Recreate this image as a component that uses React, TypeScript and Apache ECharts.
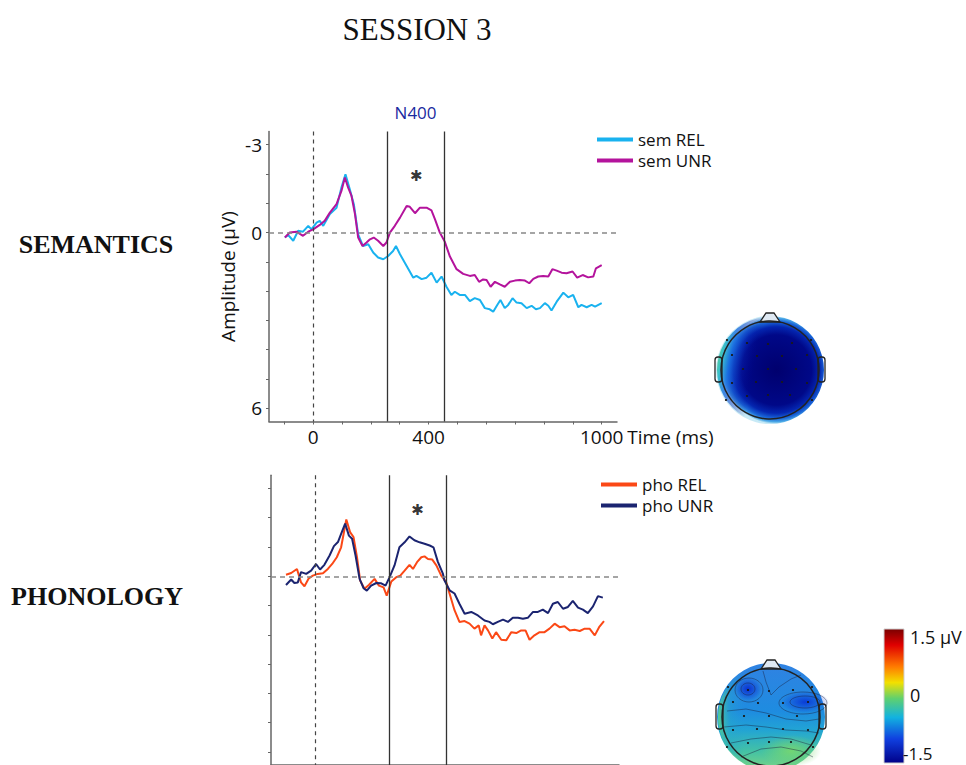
import React, { useEffect, useRef } from "react";
import * as echarts from "echarts";

// ---- data (time in ms, amplitude in µV; negative plotted up) ----
const semRel: [number, number][] = [
  [-98, 0.17], [-87, 0.08], [-69, 0.28], [-52, -0.06], [-35, -0.03], [-17, -0.23], [-6, -0.11], [12, -0.34],
  [23, -0.4], [35, -0.23], [58, -0.63], [81, -0.85], [98, -1.54], [112, -1.99], [127, -1.48], [141, -0.97],
  [156, 0.06], [173, 0.46], [191, 0.4], [208, 0.68], [225, 0.85], [243, 0.91], [260, 0.8], [277, 0.63],
  [287, 0.46], [301, 0.74], [324, 1.14], [347, 1.54], [358, 1.48], [376, 1.59], [393, 1.54], [410, 1.37],
  [428, 1.71], [445, 1.5], [462, 1.85], [479, 2.13], [491, 2.02], [508, 2.13], [526, 2.13], [543, 2.34],
  [560, 2.24], [578, 2.3], [595, 2.58], [612, 2.62], [624, 2.7], [638, 2.47], [649, 2.3], [664, 2.58],
  [676, 2.47], [691, 2.24], [705, 2.39], [722, 2.41], [740, 2.58], [757, 2.5], [772, 2.62], [786, 2.58],
  [803, 2.41], [815, 2.5], [826, 2.66], [844, 2.36], [867, 2.05], [884, 2.21], [901, 2.13], [919, 2.55],
  [930, 2.47], [948, 2.55], [965, 2.47], [977, 2.53], [1000, 2.41],
];
const semUnr: [number, number][] = [
  [-98, 0.17], [-81, 0], [-58, -0.03], [-35, 0.11], [-17, -0.03], [0, -0.11], [23, -0.26], [40, -0.4],
  [58, -0.68], [81, -0.97], [98, -1.42], [110, -1.88], [121, -1.54], [133, -1.25], [145, -0.63], [156, 0.17],
  [171, 0.46], [185, 0.34], [197, 0.23], [210, 0.17], [225, 0.28], [243, 0.46], [254, 0.34], [266, 0],
  [283, -0.23], [301, -0.51], [324, -0.91], [335, -0.88], [353, -0.66], [370, -0.85], [393, -0.85], [410, -0.76],
  [422, -0.46], [439, 0], [456, 0.31], [474, 0.82], [497, 1.25], [520, 1.41], [543, 1.48], [560, 1.45],
  [575, 1.68], [589, 1.6], [601, 1.62], [615, 1.85], [630, 1.68], [647, 1.77], [664, 1.85], [682, 1.68],
  [699, 1.64], [716, 1.62], [734, 1.64], [749, 1.73], [763, 1.58], [780, 1.5], [797, 1.48], [815, 1.5],
  [829, 1.25], [844, 1.3], [861, 1.37], [878, 1.39], [899, 1.33], [915, 1.54], [934, 1.45], [953, 1.53],
  [971, 1.5], [980, 1.22], [1000, 1.11],
];
const phoRel: [number, number][] = [
  [-101, -0.05], [-83, -0.11], [-63, -0.25], [-49, 0.21], [-37, 0.34], [-22, 0.07], [-8, -0.02], [9, -0.08],
  [27, -0.1], [44, -0.25], [59, -0.42], [75, -0.65], [90, -0.99], [108, -1.94], [121, -1.51], [133, -1.34],
  [145, -0.65], [156, 0.15], [171, 0.43], [186, 0.3], [206, 0.09], [221, 0.32], [237, 0.38], [248, 0.66],
  [264, 0.18], [281, 0.03], [295, -0.02], [310, -0.19], [327, -0.39], [339, -0.25], [353, -0.48], [368, -0.65],
  [379, -0.68], [391, -0.59], [406, -0.57], [420, -0.37], [437, -0.02], [454, 0.2], [466, 0.6], [483, 1.16],
  [500, 1.56], [518, 1.53], [535, 1.62], [552, 1.79], [567, 1.68], [575, 2.02], [587, 1.68], [599, 1.85],
  [614, 2.13], [627, 1.91], [645, 2.17], [662, 2.19], [680, 1.91], [697, 1.94], [714, 1.85], [729, 1.85],
  [743, 2.17], [760, 2.02], [778, 1.91], [795, 1.91], [812, 1.79], [830, 1.62], [847, 1.74], [864, 1.71],
  [882, 1.85], [899, 1.83], [917, 1.87], [934, 1.79], [951, 1.79], [969, 2.02], [984, 1.74], [1001, 1.53],
];
const phoUnr: [number, number][] = [
  [-101, 0.3], [-83, 0.11], [-72, 0.23], [-60, 0.21], [-49, -0.14], [-31, -0.08], [-14, -0.19], [3, -0.42],
  [17, -0.23], [32, -0.39], [50, -0.71], [65, -1.03], [79, -1.17], [90, -1.45], [104, -1.8], [117, -1.39],
  [128, -1.28], [140, -0.71], [154, 0.09], [168, 0.41], [179, 0.49], [194, 0.32], [212, 0.23], [229, 0.24],
  [244, 0.32], [258, 0.03], [275, -0.37], [292, -0.99], [310, -1.16], [327, -1.36], [344, -1.23], [362, -1.16],
  [379, -1.11], [397, -1.05], [410, -0.99], [425, -0.5], [443, -0.08], [448, 0.14], [466, 0.48], [483, 0.59],
  [500, 0.94], [518, 1.28], [541, 1.22], [564, 1.34], [587, 1.51], [604, 1.56], [616, 1.64], [633, 1.56],
  [651, 1.48], [668, 1.56], [685, 1.42], [703, 1.42], [720, 1.45], [737, 1.42], [755, 1.22], [772, 1.22],
  [789, 1.14], [807, 1.26], [824, 0.94], [841, 0.88], [859, 1.11], [876, 1.05], [893, 0.84], [911, 1.07],
  [928, 1.14], [945, 1.26], [963, 1.03], [980, 0.68], [997, 0.73],
];

const xTicks = [-100, 0, 100, 200, 300, 400, 500, 600, 700, 800, 900, 1000];
const xLabels = [0, 400, 1000];
const yTicks = [-3, -2, -1, 0, 1, 2, 3, 4, 5, 6];
const yLabels = [-3, 0, 6];
const n400Window = [256, 454];
const semStar: [number, number][] = [[357, -1.93]];
const phoStar: [number, number][] = [[355, -2.26]];

const FONT = "'Open Sans', sans-serif";
const SERIF = "'Liberation Serif', 'Times New Roman', serif";
const C_SEM_REL = "#19b2ef";
const C_SEM_UNR = "#b4139c";
const C_PHO_REL = "#fb4816";
const C_PHO_UNR = "#1b2470";

function xAxisFor(gridIndex: number, showLabels: boolean) {
  return {
    type: "value",
    gridIndex,
    min: -153,
    max: 1053,
    axisLine: { onZero: false, lineStyle: { color: "#666", width: 1.5 } },
    axisTick: { show: true, customValues: xTicks, length: 3, lineStyle: { color: "#666" } },
    axisLabel: {
      show: showLabels,
      customValues: xLabels,
      formatter: (v: number) => String(v),
      margin: 6,
      fontSize: 19,
      color: "#111",
      fontFamily: FONT,
      verticalAlign: "top",
    },
    splitLine: { show: false },
    name: showLabels ? "Time (ms)" : "",
    nameLocation: "end",
    nameGap: 8,
    nameTextStyle: { fontSize: 19, color: "#111", fontFamily: FONT, verticalAlign: "top", padding: [6, 0, 0, 0] },
  };
}

function yAxisFor(gridIndex: number, showLabels: boolean) {
  return {
    type: "value",
    gridIndex,
    inverse: true,
    min: -3.45,
    max: 6.45,
    axisLine: { onZero: false, lineStyle: { color: "#666", width: 1.5 } },
    axisTick: { show: true, customValues: yTicks, length: 3, lineStyle: { color: "#666" } },
    axisLabel: {
      show: showLabels,
      customValues: yLabels,
      formatter: (v: number) => String(v),
      margin: 7,
      fontSize: 19,
      color: "#111",
      fontFamily: FONT,
    },
    splitLine: { show: false },
    name: showLabels ? "Amplitude (µV)" : "",
    nameLocation: "middle",
    nameGap: 32,
    nameTextStyle: { fontSize: 19, color: "#111", fontFamily: FONT },
  };
}

function markLinesFor() {
  return {
    symbol: "none",
    silent: true,
    label: { show: false },
    data: [
      { yAxis: 0, lineStyle: { type: [5, 4], color: "#888", width: 1.5 } },
      { xAxis: 0, lineStyle: { type: [4, 4], color: "#444", width: 1.2 } },
      { xAxis: n400Window[0], lineStyle: { type: "solid", color: "#333", width: 1.3 } },
      { xAxis: n400Window[1], lineStyle: { type: "solid", color: "#333", width: 1.3 } },
    ],
  };
}

function lineSeries(name: string, data: [number, number][], color: string, idx: number, extra: any = {}) {
  return {
    type: "line",
    name,
    xAxisIndex: idx,
    yAxisIndex: idx,
    data,
    showSymbol: false,
    symbol: "none",
    lineStyle: { width: 2, color },
    itemStyle: { color },
    z: 3,
    ...extra,
  };
}

function starSeries(data: [number, number][], idx: number) {
  return {
    type: "scatter",
    name: "star" + idx,
    xAxisIndex: idx,
    yAxisIndex: idx,
    data,
    symbol: "circle",
    symbolSize: 1,
    itemStyle: { color: "transparent" },
    label: {
      show: true,
      position: "inside",
      formatter: "✱",
      fontSize: 15,
      color: "#000",
      fontFamily: "'DejaVu Sans', sans-serif",
    },
    silent: true,
    z: 5,
  };
}

const electrodes: [number, number][] = [
  [-23, -27], [-2, -26], [22, -27], [-38, -15], [-13, -14], [12, -14], [37, -15], [-27, -1], [-2, -1],
  [26, -1], [-38, 13], [-14, 12], [12, 12], [37, 13], [-23, 26], [-2, 25], [20, 25], [-43, -30], [41, -30],
  [-44, 30], [42, 30],
];

function headParts() {
  const parts: any[] = [
    {
      type: "rect",
      shape: { x: -55, y: -13, width: 7, height: 25, r: 3 },
      style: { fill: "rgba(255,255,255,0)", stroke: "#222", lineWidth: 1.3 },
    },
    {
      type: "rect",
      shape: { x: 48, y: -13, width: 7, height: 25, r: 3 },
      style: { fill: "rgba(255,255,255,0)", stroke: "#222", lineWidth: 1.3 },
    },
    {
      type: "polygon",
      shape: { points: [[-10, -48], [-4, -57], [4, -57], [10, -48]] },
      style: { fill: "#dfe9f3", stroke: "#222", lineWidth: 1.3 },
    },
    {
      type: "circle",
      shape: { cx: 0, cy: 0, r: 49 },
      style: { fill: "rgba(0,0,0,0)", stroke: "#222", lineWidth: 1.5 },
    },
  ];
  electrodes.forEach(([x, y]) =>
    parts.push({ type: "circle", shape: { cx: x, cy: y, r: 1.1 }, style: { fill: "#1a1a1a" } })
  );
  return parts;
}

function topMap() {
  return {
    type: "group",
    x: 770,
    y: 370,
    silent: true,
    children: [
      {
        type: "circle",
        shape: { cx: 0, cy: 0, r: 54 },
        style: {
          fill: new echarts.graphic.RadialGradient(0.56, 0.5, 0.5, [
            { offset: 0, color: "#00006e" },
            { offset: 0.65, color: "#000888" },
            { offset: 0.8, color: "#0426b0" },
            { offset: 0.9, color: "#1a66d8" },
            { offset: 0.96, color: "#4aa8e6" },
            { offset: 1, color: "#c8eaf6" },
          ]),
        },
      },
      {
        type: "circle",
        shape: { cx: 0, cy: 0, r: 53 },
        style: {
          fill: new echarts.graphic.LinearGradient(0, 0.3, 1, 0.5, [
            { offset: 0, color: "rgba(100,212,130,1)" },
            { offset: 0.06, color: "rgba(50,190,200,0.95)" },
            { offset: 0.14, color: "rgba(25,110,225,0.8)" },
            { offset: 0.26, color: "rgba(10,40,180,0.35)" },
            { offset: 0.38, color: "rgba(0,0,140,0)" },
            { offset: 1, color: "rgba(0,0,140,0)" },
          ]),
        },
      },
      ...headParts(),
    ],
  };
}

function bottomMap() {
  const contour = { fill: "rgba(0,0,0,0)", stroke: "rgba(25,30,60,0.55)", lineWidth: 0.8 };
  return {
    type: "group",
    x: 771,
    y: 717,
    silent: true,
    children: [
      {
        type: "circle",
        shape: { cx: 0, cy: 0, r: 54 },
        style: {
          fill: new echarts.graphic.LinearGradient(0, 0, 0, 1, [
            { offset: 0, color: "#3082e2" },
            { offset: 0.45, color: "#1e8ce0" },
            { offset: 0.62, color: "#22a4d4" },
            { offset: 0.82, color: "#44c2a4" },
            { offset: 1, color: "#7cd682" },
          ]),
        },
      },
      {
        type: "circle",
        shape: { cx: 0, cy: 0, r: 53 },
        style: {
          fill: new echarts.graphic.LinearGradient(0, 0, 1, 0, [
            { offset: 0, color: "rgba(90,210,140,0.95)" },
            { offset: 0.12, color: "rgba(40,170,200,0.35)" },
            { offset: 0.25, color: "rgba(40,160,210,0)" },
            { offset: 1, color: "rgba(40,160,210,0)" },
          ]),
        },
      },
      {
        type: "ellipse",
        shape: { cx: 20, cy: 34, rx: 30, ry: 16 },
        style: {
          fill: new echarts.graphic.RadialGradient(0.5, 0.5, 0.5, [
            { offset: 0, color: "rgba(120,215,110,0.9)" },
            { offset: 1, color: "rgba(120,215,110,0)" },
          ]),
        },
      },
      {
        type: "ellipse",
        shape: { cx: -23, cy: -28, rx: 14, ry: 12 },
        style: {
          fill: new echarts.graphic.RadialGradient(0.5, 0.5, 0.5, [
            { offset: 0, color: "rgba(10,50,210,1)" },
            { offset: 1, color: "rgba(10,50,210,0)" },
          ]),
        },
      },
      {
        type: "ellipse",
        shape: { cx: 34, cy: -15, rx: 24, ry: 11 },
        style: {
          fill: new echarts.graphic.RadialGradient(0.5, 0.5, 0.5, [
            { offset: 0, color: "rgba(10,60,215,1)" },
            { offset: 1, color: "rgba(10,60,215,0)" },
          ]),
        },
      },
      { type: "ellipse", shape: { cx: -23, cy: -28, rx: 7, ry: 6 }, style: contour },
      { type: "ellipse", shape: { cx: -22, cy: -27, rx: 14, ry: 12 }, style: contour },
      { type: "ellipse", shape: { cx: 34, cy: -15, rx: 15, ry: 6 }, style: contour },
      { type: "ellipse", shape: { cx: 32, cy: -14, rx: 24, ry: 11 }, style: contour },
      {
        type: "polyline",
        shape: { points: [[-44, -6], [-25, -8], [-5, -4], [15, 2], [35, 4], [48, 2]] },
        style: contour,
      },
      {
        type: "polyline",
        shape: { points: [[-47, 10], [-25, 8], [-5, 10], [15, 13], [35, 14], [48, 16]] },
        style: contour,
      },
      {
        type: "polyline",
        shape: { points: [[-40, 26], [-20, 22], [0, 20], [20, 22], [40, 28]] },
        style: contour,
      },
      {
        type: "polyline",
        shape: { points: [[-30, 40], [-10, 32], [10, 30], [30, 34], [42, 40]] },
        style: contour,
      },
      {
        type: "polyline",
        shape: { points: [[-8, -46], [-5, -35], [0, -22], [8, -30], [20, -38], [30, -42]] },
        style: contour,
      },
      ...headParts(),
    ],
  };
}

function colorBar() {
  return {
    type: "rect",
    silent: true,
    shape: { x: 884, y: 629, width: 20, height: 134 },
    style: {
      stroke: "#cfcfcf",
      lineWidth: 1,
      fill: new echarts.graphic.LinearGradient(0, 0, 0, 1, [
        { offset: 0, color: "#7a0000" },
        { offset: 0.12, color: "#e00000" },
        { offset: 0.28, color: "#ff7a00" },
        { offset: 0.4, color: "#f2e000" },
        { offset: 0.52, color: "#5ed070" },
        { offset: 0.66, color: "#12b2e0" },
        { offset: 0.82, color: "#1040e0" },
        { offset: 1, color: "#000088" },
      ]),
    },
  };
}

function text(t: string, x: number, y: number, opts: any) {
  return {
    type: "text",
    silent: true,
    style: {
      text: t,
      x,
      y,
      fill: "#111",
      textAlign: opts.align || "left",
      textVerticalAlign: "middle",
      align: opts.align || "left",
      verticalAlign: "middle",
      fontSize: opts.fontSize,
      fontFamily: opts.fontFamily || FONT,
      fontWeight: opts.fontWeight || "normal",
    },
  };
}

const legendBase = {
  orient: "vertical",
  padding: 0,
  itemWidth: 36,
  itemHeight: 4,
  itemGap: 4,
  icon: "rect",
  selectedMode: false,
  textStyle: { fontSize: 17, lineHeight: 16, color: "#111", fontFamily: FONT },
};

export default function App() {
  const ref = useRef<HTMLDivElement>(null);
  useEffect(() => {
    if (!ref.current) return;
    const chart = echarts.init(ref.current, undefined, { renderer: "svg" });
    const option: any = {
      animation: false,
      backgroundColor: "#fff",
      grid: [
        { left: 269, top: 131.5, width: 348, height: 290 },
        { left: 271, top: 475.3, width: 348, height: 290 },
      ],
      xAxis: [xAxisFor(0, true), xAxisFor(1, false)],
      yAxis: [yAxisFor(0, true), yAxisFor(1, false)],
      legend: [
        { ...legendBase, data: ["sem REL", "sem UNR"], left: 597, top: 131 },
        { ...legendBase, data: ["pho REL", "pho UNR"], left: 601, top: 476 },
      ],
      series: [
        lineSeries("sem REL", semRel, C_SEM_REL, 0, {
          markLine: markLinesFor(),
          markArea: {
            silent: true,
            itemStyle: { color: "rgba(0,0,0,0)" },
            label: {
              show: true,
              position: "top",
              distance: 11,
              color: "#1a2aa0",
              fontSize: 17,
              fontFamily: FONT,
            },
            data: [[{ name: "N400", xAxis: n400Window[0] }, { xAxis: n400Window[1] }]],
          },
        }),
        lineSeries("sem UNR", semUnr, C_SEM_UNR, 0),
        starSeries(semStar, 0),
        lineSeries("pho REL", phoRel, C_PHO_REL, 1, { markLine: markLinesFor() }),
        lineSeries("pho UNR", phoUnr, C_PHO_UNR, 1),
        starSeries(phoStar, 1),
      ],
      graphic: [
        text("SESSION 3", 417, 29, { align: "center", fontSize: 31, fontFamily: SERIF }),
        text("SEMANTICS", 96, 244, { align: "center", fontSize: 26, fontFamily: SERIF, fontWeight: "bold" }),
        text("PHONOLOGY", 97, 596, { align: "center", fontSize: 26, fontFamily: SERIF, fontWeight: "bold" }),
        topMap(),
        bottomMap(),
        colorBar(),
        text("1.5 µV", 910, 637, { fontSize: 18 }),
        text("0", 910, 695, { fontSize: 18 }),
        text("-1.5", 903, 753, { fontSize: 17 }),
      ],
    };
    chart.setOption(option);
    return () => chart.dispose();
  }, []);
  return (
    <div
      ref={ref}
      style={{ position: "fixed", left: 0, top: 0, width: 966, height: 765, background: "#fff" }}
    />
  );
}
